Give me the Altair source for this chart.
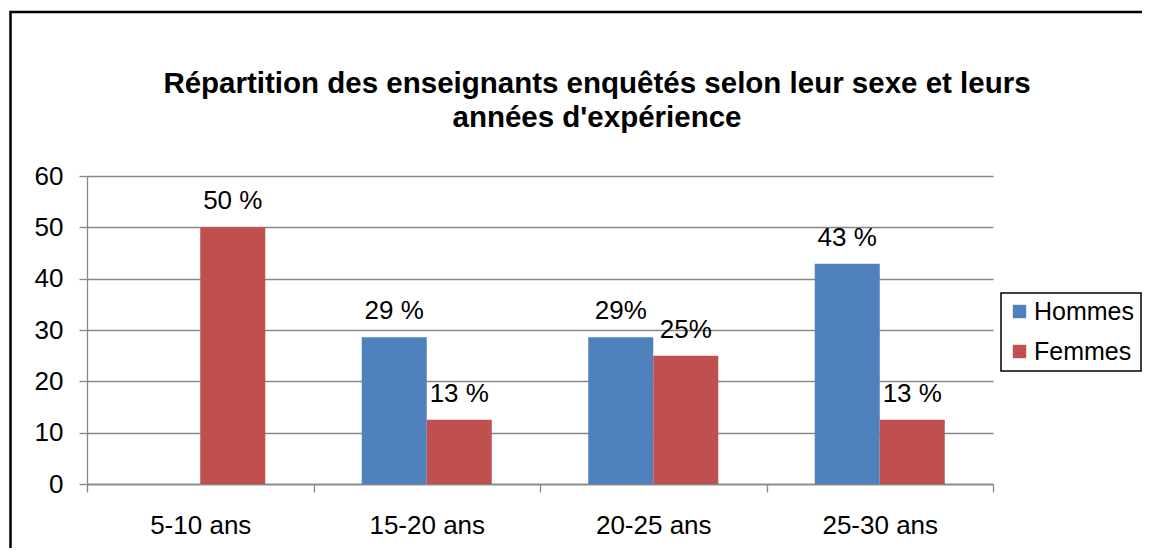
import altair as alt
import pandas as pd

categories = ["5-10 ans", "15-20 ans", "20-25 ans", "25-30 ans"]
hommes = [0, 28.6, 28.6, 42.9]
femmes = [50, 12.5, 25, 12.5]
hommes_labels = ["", "29 %", "29%", "43 %"]
femmes_labels = ["50 %", "13 %", "25%", "13 %"]
series = ["Hommes", "Femmes"]
colors = ["#4F81BD", "#C0504D"]
title_lines = ["Répartition des enseignants enquêtés selon leur sexe et leurs",
               "années d'expérience"]

rows = []
for c, h, f, hl, fl in zip(categories, hommes, femmes, hommes_labels, femmes_labels):
    rows.append({"cat": c, "serie": "Hommes", "val": h, "lab": hl})
    rows.append({"cat": c, "serie": "Femmes", "val": f, "lab": fl})
df = pd.DataFrame(rows)

FONT = "Liberation Sans"
GRID = "#878787"

x = alt.X("cat:N", sort=categories, title=None,
          scale=alt.Scale(paddingInner=0, paddingOuter=0),
          axis=alt.Axis(labelAngle=0, labelFont=FONT, labelFontSize=26, labelColor="black",
                        labelPadding=20, tickBand="extent", tickSize=8, tickColor=GRID,
                        domainColor=GRID, domainWidth=1.3, tickWidth=1.3, grid=False))
xo = alt.XOffset("serie:N", sort=series,
                 scale=alt.Scale(paddingOuter=0.742, paddingInner=0))
y = alt.Y("val:Q", title=None,
          scale=alt.Scale(domain=[0, 60], nice=False),
          axis=alt.Axis(values=[0, 10, 20, 30, 40, 50, 60], labelFont=FONT, labelFontSize=26,
                        labelColor="black", labelPadding=16, tickSize=8, tickColor=GRID,
                        domainColor=GRID, gridColor=GRID, gridWidth=1.3, domainWidth=1.3,
                        tickWidth=1.3, grid=True))
color = alt.Color("serie:N", sort=series, title=None,
                  scale=alt.Scale(domain=series, range=colors),
                  legend=alt.Legend(orient="none", legendX=914, legendY=117,
                                    symbolType="square", symbolSize=180, symbolStrokeWidth=0,
                                    labelFont=FONT, labelFontSize=25, labelColor="black",
                                    labelOffset=2, rowPadding=14, padding=6,
                                    strokeColor="black", fillColor="white"))

base = alt.Chart(df)
bars = base.mark_bar().encode(x=x, xOffset=xo, y=y, color=color)
labels = base.mark_text(baseline="alphabetic", dy=-18, font=FONT, fontSize=26,
                        color="black").encode(x=x, xOffset=xo, y=y, text="lab:N")

border = alt.Chart(pd.DataFrame({"a": [0]})).mark_rect(
    fill="transparent", stroke="black", strokeWidth=2.5).encode(
    x=alt.value(-76.5), x2=alt.value(1080), y=alt.value(-164), y2=alt.value(400))

chart = alt.layer(border, bars, labels).properties(
    width=906, height=308,
    autosize=alt.AutoSizeParams(type="none"),
    padding={"left": 79, "top": 168, "right": 149, "bottom": 64},
    title=alt.TitleParams(text=title_lines, font=FONT, fontSize=29.5, fontWeight="bold",
                          color="black", anchor="middle", frame="group", dx=57,
                          lineHeight=34, offset=-123),
).configure_view(stroke="transparent").configure_legend(strokeWidth=1.5)

chart.save("out.html", embed_options={"renderer": "svg", "actions": False})
